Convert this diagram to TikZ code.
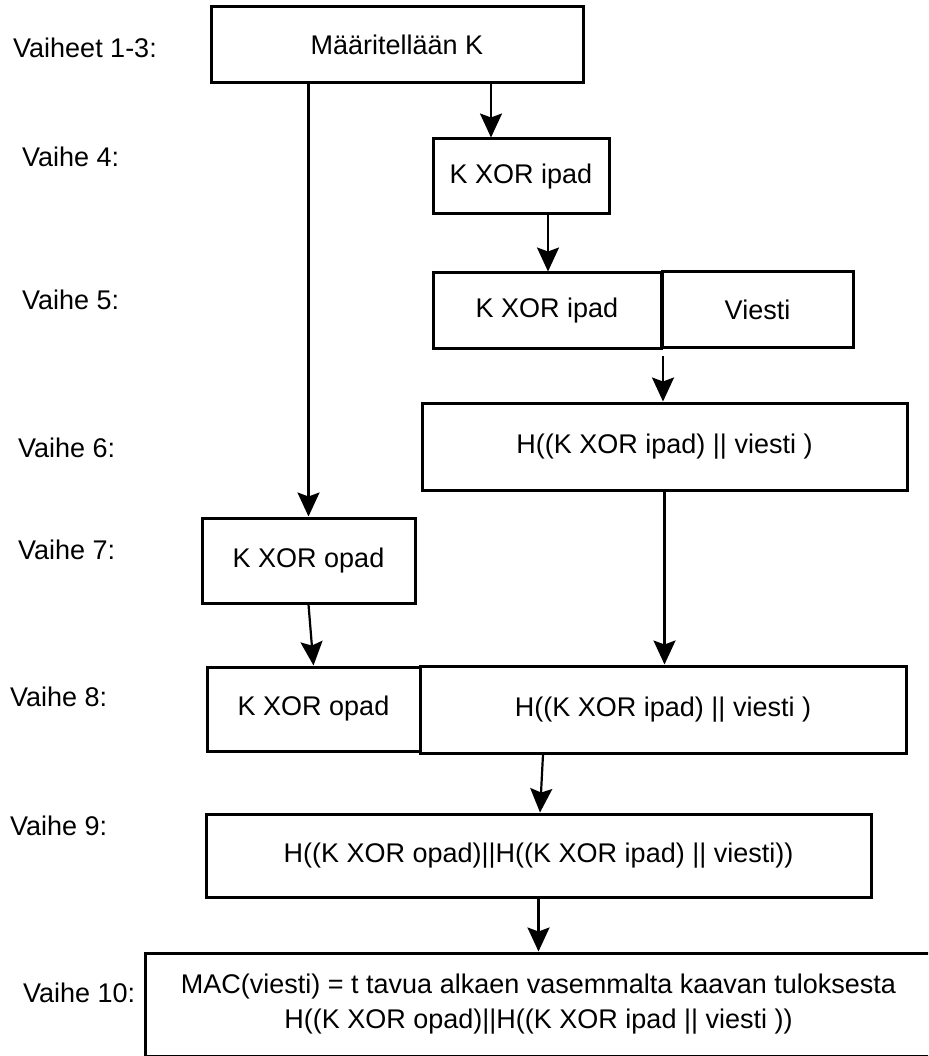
\documentclass[tikz,border=0pt]{standalone}
\usepackage{fontspec}
\setmainfont{Liberation Sans}
\usetikzlibrary{arrows.meta}

\begin{document}
\begin{tikzpicture}[
  x=1pt, y=-1pt,
  every node/.style={font=\fontsize{27}{35}\selectfont},
  box/.style={draw=black, line width=3pt, fill=white, rectangle, inner sep=0pt, align=center},
  steplabel/.style={anchor=west, inner sep=0pt},
  arr/.style={line width=2.2pt, -{Stealth[length=24pt, width=22pt, inset=4pt]}}
]
% canvas
\path[fill=white] (0,0) rectangle (928,1056);
\useasboundingbox (0,0) rectangle (928,1056);
\clip (0,0) rectangle (928,1056);

% step labels
\node[steplabel] (L1)  at (13,48)   {Vaiheet 1-3:};
\node[steplabel] (L4)  at (22,157)  {Vaihe 4:};
\node[steplabel] (L5)  at (22,300)  {Vaihe 5:};
\node[steplabel] (L6)  at (18,448)  {Vaihe 6:};
\node[steplabel] (L7)  at (18,550)  {Vaihe 7:};
\node[steplabel] (L8)  at (10,697)  {Vaihe 8:};
\node[steplabel] (L9)  at (10,826)  {Vaihe 9:};
\node[steplabel] (L10) at (23,993)  {Vaihe 10:};

% boxes
\node[box, minimum width=372pt, minimum height=76pt] (A)   at (397,45)    {Määritellään K};
\node[box, minimum width=176pt, minimum height=75pt] (B4)  at (521,176.5) {K XOR ipad};
\node[box, minimum width=228pt, minimum height=75pt] (B5)  at (547,310.5) {K XOR ipad};
\node[box, minimum width=191pt, minimum height=75pt] (V5)  at (757.5,309.5) {Viesti};
\node[box, minimum width=485pt, minimum height=87pt] (B6)  at (664.5,446.5) {H((K XOR ipad) || viesti )};
\node[box, minimum width=213pt, minimum height=85pt] (B7)  at (308.5,560.5) {K XOR opad};
\node[box, minimum width=213pt, minimum height=84pt] (B8K) at (313.5,709)  {K XOR opad};
\node[box, minimum width=486pt, minimum height=87pt] (B8H) at (663,709.5)  {H((K XOR ipad) || viesti )};
\node[box, minimum width=665pt, minimum height=83pt] (B9)  at (538.5,855.5) {H((K XOR opad)||H((K XOR ipad) || viesti))};
\node[box, minimum width=787pt, minimum height=103pt] (B10) at (538.5,1004.5)
  {MAC(viesti) = t tavua alkaen vasemmalta kaavan tuloksesta\\H((K XOR opad)||H((K XOR ipad || viesti ))};

% connector columns
\coordinate (cA4) at (491,0);
\coordinate (c45) at (548,0);
\coordinate (c56) at (663,356);
\coordinate (c89a) at (543,0);
\coordinate (c89b) at (540,0);

% connectors
\draw[arr] (A.south -| cA4) -- (B4.north -| cA4);
\draw[arr] (A.south -| B7.north) -- (B7.north);
\draw[arr] (B4.south -| c45) -- (B5.north -| c45);
\draw[arr] (c56) -- (B6.north -| c56);
\draw[arr] (B6.south) -- (B8H.north -| B6.south);
\draw[arr] (B7.south) -- (B8K.north);
\draw[arr] (B8H.south -| c89a) -- (B9.north -| c89b);
\draw[arr] (B9.south) -- (B10.north);
\end{tikzpicture}
\end{document}
